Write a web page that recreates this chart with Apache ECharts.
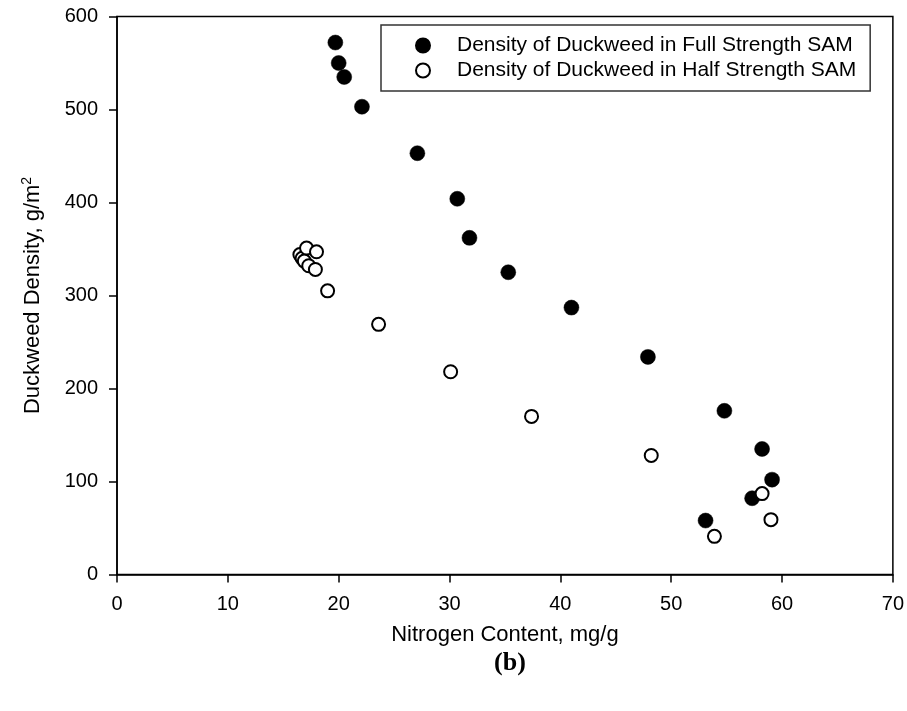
<!DOCTYPE html>
<html>
<head>
<meta charset="utf-8">
<script src="https://cdn.jsdelivr.net/npm/echarts@6/dist/echarts.min.js"></script>
<style>
  html, body { margin: 0; padding: 0; background: #fff; }
  #main { width: 907px; height: 711px; }
</style>
</head>
<body>
<div id="main"></div>
<script>
  // nitrogen content (mg/g) and density (g/m2)
  var fullN = [19.7, 20.0, 20.5, 22.1, 27.1, 30.7, 31.8, 35.3, 41.0, 47.9, 54.8, 58.2, 59.1, 57.3, 53.1];
  var fullD = [572, 550, 535, 503, 453, 404, 362, 325, 287, 234, 176, 135, 102, 82, 58];
  var halfN = [16.5, 16.7, 16.9, 17.1, 17.3, 17.9, 18.0, 19.0, 23.6, 30.1, 37.4, 48.2, 58.2, 59.0, 53.9];
  var halfD = [344, 340, 337, 351, 332, 328, 347, 305, 269, 218, 170, 128, 87, 59, 41];

  var seriesNames = ['Density of Duckweed in Full Strength SAM', 'Density of Duckweed in Half Strength SAM'];

  function pairs(xs, ys) {
    var out = [];
    for (var i = 0; i < xs.length; i++) out.push([xs[i], ys[i]]);
    return out;
  }

  var font = 'Liberation Sans, Arial, sans-serif';
  var chart = echarts.init(document.getElementById('main'));

  var option = {
    animation: false,
    backgroundColor: '#fff',
    title: {
      text: '(b)',
      left: 505,
      top: 645,
      textAlign: 'center',
      textStyle: { fontFamily: 'Liberation Serif, Times New Roman, serif', fontWeight: 'bold', fontSize: 26, color: '#000' }
    },
    grid: { left: 117, right: 13, top: 16.5, bottom: 136.5, show: true, borderColor: '#000', borderWidth: 1.5, backgroundColor: 'transparent' },
    legend: {
      orient: 'vertical',
      left: 381,
      top: 25,
      padding: [10, 14, 10, 34],
      itemGap: 4,
      itemWidth: 14,
      itemHeight: 14,
      borderColor: '#333',
      borderWidth: 1.5,
      textStyle: { fontFamily: font, fontSize: 21, color: '#000', padding: [0, 0, 0, 22] },
      data: seriesNames
    },
    xAxis: {
      type: 'value',
      min: 0, max: 70, interval: 10,
      name: 'Nitrogen Content, mg/g',
      nameLocation: 'middle',
      nameGap: 49,
      nameTextStyle: { fontFamily: font, fontSize: 22, color: '#000' },
      axisLine: { show: true, lineStyle: { color: '#000', width: 1.5 } },
      axisTick: { show: true, length: 8, lineStyle: { color: '#000', width: 1.5 } },
      axisLabel: { fontFamily: font, fontSize: 20, color: '#000', margin: 20 },
      splitLine: { show: false }
    },
    yAxis: {
      type: 'value',
      min: 0, max: 600, interval: 100,
      name: 'Duckweed Density, g/m{sup|2}',
      nameLocation: 'middle',
      nameGap: 72,
      nameTextStyle: {
        fontFamily: font, fontSize: 22, color: '#000', lineHeight: 25,
        rich: { sup: { fontFamily: font, fontSize: 14, color: '#000', verticalAlign: 'top', lineHeight: 25 } }
      },
      axisLine: { show: true, lineStyle: { color: '#000', width: 1.5 } },
      axisTick: { show: true, length: 8, lineStyle: { color: '#000', width: 1.5 } },
      axisLabel: { fontFamily: font, fontSize: 20, color: '#000', margin: 19 },
      splitLine: { show: false }
    },
    series: [{
      name: seriesNames[0],
      type: 'scatter',
      symbol: 'circle',
      symbolSize: 15,
      itemStyle: { color: '#000', borderColor: '#000', borderWidth: 0.5, opacity: 1 },
      data: pairs(fullN, fullD)
    }, {
      name: seriesNames[1],
      type: 'scatter',
      symbol: 'circle',
      symbolSize: 13,
      itemStyle: { color: '#fff', borderColor: '#000', borderWidth: 2, opacity: 1 },
      data: pairs(halfN, halfD)
    }]
  };
  chart.setOption(option);
</script>
</body>
</html>
